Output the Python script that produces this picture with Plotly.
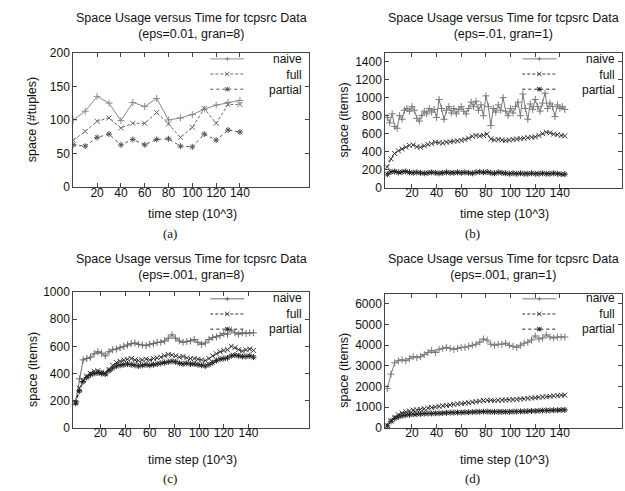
import plotly.graph_objects as go

W, H = 625, 491

# ---------------- data ----------------
# (a) eps=0.01, gran=8
a_time = [0, 10, 20, 30, 40, 50, 60, 70, 80, 90, 100, 110, 120, 130, 140]
a_naive = [100, 113, 135, 125, 99, 126, 120, 132, 100, 103, 108, 116, 122, 126, 129]
a_full = [70, 83, 98, 103, 88, 95, 95, 111, 94, 74, 89, 117, 95, 123, 123]
a_partial = [63, 61, 74, 79, 63, 71, 63, 71, 72, 61, 60, 79, 70, 85, 82]

# dense panels
time_2 = list(range(0, 145, 2))
time_3 = list(range(0, 145, 3))

# (b) eps=.01, gran=1
b_naive = [780, 720, 820, 680, 660, 800, 760, 860, 880, 850,
           900, 860, 770, 740, 800, 850, 820, 880, 840, 870,
           780, 980, 880, 760, 860, 900, 830, 880, 820, 870,
           900, 850, 820, 880, 950, 900, 960, 860, 920, 800,
           1020, 900, 690, 880, 840, 920, 860, 1000, 850, 800,
           880, 830, 900, 950, 800, 1040, 880, 760, 930, 870,
           980, 900, 850, 940, 1050, 880, 940, 900, 790, 920,
           880, 900, 870]
b_full = [230, 320, 380, 410, 430, 450, 470, 475, 455, 450,
          465, 480, 490, 505, 500, 495, 505, 510, 515, 520,
          525, 535, 550, 570, 580, 575, 580, 595, 540, 530,
          535, 530, 525, 530, 535, 540, 545, 550, 555, 560,
          565, 580, 600, 615, 610, 595, 590, 580, 575]
b_partial = [150, 175, 180, 170, 175, 180, 170, 165, 170, 165,
             160, 165, 170, 165, 160, 165, 170, 165, 165, 170,
             165, 170, 165, 160, 170, 175, 170, 175, 165, 160,
             170, 165, 160, 155, 160, 155, 160, 155, 155, 160,
             155, 155, 160, 155, 155, 160, 155, 150, 150]

# (c) eps=.001, gran=8
c_naive = [190, 360, 500, 510, 520, 545, 560, 550, 530, 560,
           575, 580, 590, 600, 610, 620, 625, 615, 610, 605,
           615, 620, 630, 630, 640, 660, 685, 660, 640, 630,
           635, 640, 650, 630, 615, 625, 650, 665, 670, 680,
           695, 690, 720, 700, 690, 700, 695, 700, 700]
c_full = [185, 290, 350, 380, 400, 415, 420, 410, 400, 430,
          460, 480, 490, 500, 505, 510, 500, 495, 500, 505,
          500, 510, 515, 520, 530, 540, 535, 530, 520, 525,
          515, 510, 510, 505, 500, 495, 510, 530, 545, 560,
          570, 575, 600, 590, 575, 565, 575, 580, 570]
c_partial = [180, 270, 340, 370, 390, 400, 405, 400, 395, 420,
             440, 455, 460, 465, 470, 465, 460, 455, 460, 465,
             460, 465, 470, 475, 480, 485, 490, 485, 475, 470,
             475, 470, 470, 465, 460, 455, 465, 480, 495, 505,
             510, 515, 530, 535, 530, 525, 525, 530, 520]

# (d) eps=.001, gran=1
d_naive = [1900, 2600, 3150, 3250, 3300, 3250, 3350, 3450, 3400, 3450,
           3550, 3650, 3750, 3650, 3800, 3850, 3900, 3850, 3800, 3850,
           3900, 3900, 3950, 4000, 4050, 4150, 4300, 4250, 4050, 4000,
           4050, 4050, 4100, 4000, 3950, 3900, 4000, 4100, 4150, 4250,
           4450, 4300, 4350, 4500, 4400, 4350, 4400, 4400, 4400]
d_full = [120, 350, 520, 640, 720, 780, 820, 860, 880, 900,
          930, 960, 990, 1010, 1040, 1070, 1090, 1110, 1140, 1160,
          1180, 1200, 1220, 1250, 1270, 1300, 1330, 1340, 1340, 1330,
          1340, 1350, 1350, 1360, 1370, 1380, 1400, 1410, 1430, 1450,
          1460, 1480, 1500, 1510, 1530, 1550, 1560, 1580, 1590]
d_partial = [100, 320, 460, 540, 590, 620, 640, 660, 670, 680,
             690, 700, 700, 710, 710, 720, 730, 740, 740, 750,
             750, 760, 760, 770, 780, 780, 790, 790, 780, 780,
             780, 780, 780, 780, 790, 790, 800, 800, 810, 820,
             820, 830, 840, 850, 850, 860, 860, 870, 870]

series_names = ["naive", "full", "partial"]
main_title = "Space Usage versus Time for tcpsrc Data"
subtitles = ["(eps=0.01, gran=8)", "(eps=.01, gran=1)", "(eps=.001, gran=8)", "(eps=.001, gran=1)"]
xlabel = "time step (10^3)"
ylabels = ["space (#tuples)", "space (items)", "space (items)", "space (items)"]
captions = ["(a)", "(b)", "(c)", "(d)"]
xtick_vals = [20, 40, 60, 80, 100, 120, 140]
ytick_sets = [[0, 50, 100, 150, 200],
              [0, 200, 400, 600, 800, 1000, 1200, 1400],
              [0, 200, 400, 600, 800, 1000],
              [0, 1000, 2000, 3000, 4000, 5000, 6000]]

# ---------------- styling ----------------
SANS = "Liberation Sans, Arial, Helvetica, sans-serif"
SERIF = "Liberation Serif, Times New Roman, serif"
FRAME = "#444444"
TXT = "#111111"
line_style = {
    "naive": dict(color="#8a8a8a", dash="solid", symbol="cross-thin"),
    "full": dict(color="#6a6a6a", dash="3px,2px", symbol="x-thin"),
    "partial": dict(color="#555555", dash="dot", symbol="asterisk-open"),
}
dense_colors = [None,
                {"naive": "#7a7a7a", "full": "#3a3a3a", "partial": "#222222"},
                {"naive": "#6a6a6a", "full": "#333333", "partial": "#222222"},
                {"naive": "#7a7a7a", "full": "#333333", "partial": "#222222"}]


def fx(px):
    return px / W


def fy(py):
    return 1 - py / H


# panel geometry in pixels: (left, right, top, bottom)
geom = [(73.3, 309, 47, 185.5), (385.3, 622, 47, 186),
        (73.3, 309, 293.5, 433), (385.3, 622, 295, 433.3)]
xranges = [[0, 198], [-1.6, 190.4], [-1.9, 189], [-1.6, 190.4]]
yranges = [[0, 200], [0, 1500], [0, 1000], [0, 6500]]

panel_data = [
    [(a_time, a_naive), (a_time, a_full), (a_time, a_partial)],
    [(time_2, b_naive), (time_3, b_full), (time_3, b_partial)],
    [(time_3, c_naive), (time_3, c_full), (time_3, c_partial)],
    [(time_3, d_naive), (time_3, d_full), (time_3, d_partial)],
]

fig = go.Figure()
layout = dict(width=W, height=H, margin=dict(l=0, r=0, t=0, b=0),
              paper_bgcolor="white", plot_bgcolor="white", showlegend=False)

annotations = []
shapes = []

for i in range(4):
    L, R, T, B = geom[i]
    xa = "xaxis" if i == 0 else f"xaxis{i+1}"
    ya = "yaxis" if i == 0 else f"yaxis{i+1}"
    xref = "x" if i == 0 else f"x{i+1}"
    yref = "y" if i == 0 else f"y{i+1}"
    common = dict(showline=True, linecolor=FRAME, linewidth=1, mirror="ticks",
                  ticks="inside", ticklen=4, tickcolor=FRAME, tickwidth=1,
                  showgrid=False, zeroline=False,
                  tickfont=dict(family=SANS, size=12, color=TXT))
    layout[xa] = dict(common, domain=[fx(L), fx(R)], range=xranges[i],
                      tickmode="array", tickvals=xtick_vals, anchor=yref,
                      ticklabelstandoff=-6)
    layout[ya] = dict(common, domain=[fy(B), fy(T)], range=yranges[i],
                      tickmode="array", tickvals=ytick_sets[i], anchor=xref)

    for k, name in enumerate(series_names):
        xs, ys = panel_data[i][k]
        st = line_style[name]
        col = st["color"] if dense_colors[i] is None else dense_colors[i][name]
        fig.add_trace(go.Scatter(
            x=xs, y=ys, name=name, mode="lines+markers",
            xaxis=xref, yaxis=yref,
            line=dict(color=col, width=1, dash=st["dash"]),
            marker=dict(symbol=st["symbol"], size=5,
                        line=dict(color=col, width=1), color=col),
        ))

    cx = (L + R) / 2
    top_row = T < 100
    # two-line title
    annotations.append(dict(text=main_title + "<br>" + subtitles[i],
                            x=fx(cx), y=fy(20 if top_row else 267.5), xref="paper", yref="paper",
                            xanchor="center", yanchor="middle", showarrow=False,
                            font=dict(family=SANS, size=12.5, color=TXT)))
    # x label
    annotations.append(dict(text=xlabel,
                            x=fx(cx + 1), y=fy(213 if top_row else 466), xref="paper", yref="paper",
                            xanchor="center", yanchor="middle", showarrow=False,
                            font=dict(family=SANS, size=12.5, color=TXT)))
    # y label
    annotations.append(dict(text=ylabels[i], textangle=-90,
                            x=fx(L - 41), y=fy((T + B) / 2 + (0 if top_row else 10)),
                            xref="paper", yref="paper",
                            xanchor="center", yanchor="middle", showarrow=False,
                            font=dict(family=SANS, size=12.5, color=TXT)))
    # caption
    annotations.append(dict(text=captions[i],
                            x=fx(170 if i % 2 == 0 else 472), y=fy(233 if top_row else 485),
                            xref="paper", yref="paper",
                            xanchor="center", yanchor="middle", showarrow=False,
                            font=dict(family=SERIF, size=13, color=TXT)))
    # key drawn inside the frame, gnuplot-style (right-aligned text, samples to the left)
    key_font = 12
    text_right = R - 5.5
    s0, s1 = L + 137, L + 171
    mid = 69 if top_row else 316
    annotations.append(dict(text="<br>".join(series_names), align="right",
                            x=fx(text_right), y=fy(mid), xref="paper", yref="paper",
                            xanchor="right", yanchor="middle", showarrow=False,
                            font=dict(family=SANS, size=key_font, color=TXT)))
    step = key_font * 1.3
    for k, name in enumerate(series_names):
        ry = mid + (k - 1) * step
        st = line_style[name]
        col = st["color"] if dense_colors[i] is None else dense_colors[i][name]
        shapes.append(dict(type="line", xref="paper", yref="paper",
                           x0=fx(s0), x1=fx(s1), y0=fy(ry), y1=fy(ry),
                           line=dict(color=col, width=1, dash=st["dash"])))
        mx = (s0 + s1) / 2
        d = 2.2
        plus = f"M{fx(mx-d)},{fy(ry)} L{fx(mx+d)},{fy(ry)} M{fx(mx)},{fy(ry-d)} L{fx(mx)},{fy(ry+d)}"
        cross = f"M{fx(mx-d)},{fy(ry-d)} L{fx(mx+d)},{fy(ry+d)} M{fx(mx-d)},{fy(ry+d)} L{fx(mx+d)},{fy(ry-d)}"
        path = plus if name == "naive" else cross if name == "full" else plus + " " + cross
        shapes.append(dict(type="path", xref="paper", yref="paper", path=path,
                           line=dict(color=col, width=1)))

layout["annotations"] = annotations
layout["shapes"] = shapes
fig.update_layout(**layout)
fig.write_html("out.html", config={"displayModeBar": False},
               post_script="document.body.style.margin='0px';")
